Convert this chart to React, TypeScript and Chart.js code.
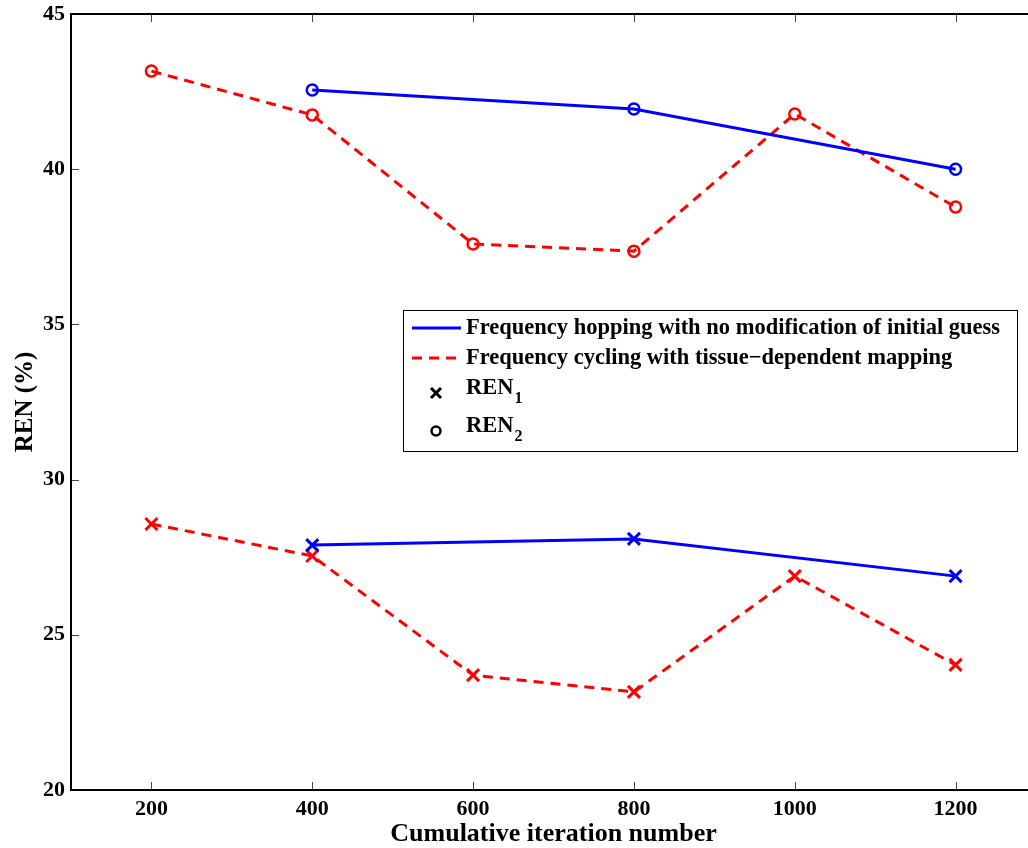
import React, { useEffect, useRef } from 'react';
import { Chart, registerables } from 'chart.js';

Chart.register(...registerables);

// ---- data ----
const cycIterations = [200, 400, 600, 800, 1000, 1200];
const hopIterations = [400, 800, 1200];
const hopREN1 = [27.89, 28.09, 26.89];
const hopREN2 = [42.55, 41.94, 40.0];
const cycREN1 = [28.57, 27.54, 23.7, 23.16, 26.89, 24.03];
const cycREN2 = [43.16, 41.75, 37.59, 37.36, 41.78, 38.78];
const xTickValues = [200, 400, 600, 800, 1000, 1200];
const yTickValues = [20, 25, 30, 35, 40, 45];
const xRange = [100, 1300];
const yRange = [20, 45];
const legendLabels = [
  'Frequency hopping with no modification of initial guess',
  'Frequency cycling with tissue\u2212dependent mapping',
  'REN',
  'REN',
];
const legendSubs = ['', '', '1', '2'];

const FONT = '"Liberation Serif", "Times New Roman", serif';
const BLUE = '#0000ff';
const RED = '#ff0000';

const toXY = (xs: number[], ys: number[]) => xs.map((x, i) => ({ x, y: ys[i] }));

const boxTicksPlugin = {
  id: 'boxTicks',
  afterDraw(chart: any) {
    const { ctx, chartArea, scales } = chart;
    const { left, right, top, bottom } = chartArea;
    ctx.save();
    ctx.strokeStyle = '#444';
    ctx.lineWidth = 1;
    const tl = 8;
    ctx.beginPath();
    xTickValues.forEach((v) => {
      const px = Math.round(scales.x.getPixelForValue(v)) + 0.5;
      ctx.moveTo(px, bottom);
      ctx.lineTo(px, bottom - tl);
      ctx.moveTo(px, top);
      ctx.lineTo(px, top + tl);
    });
    yTickValues.forEach((v) => {
      const py = Math.round(scales.y.getPixelForValue(v)) + 0.5;
      ctx.moveTo(left, py);
      ctx.lineTo(left + tl, py);
      ctx.moveTo(right, py);
      ctx.lineTo(right - tl, py);
    });
    ctx.stroke();
    ctx.strokeStyle = '#000';
    ctx.lineWidth = 2;
    ctx.strokeRect(left, top, right - left, bottom - top);
    ctx.restore();
  },
};

const legendPlugin = {
  id: 'customLegend',
  afterDraw(chart: any) {
    const { ctx } = chart;
    const bx = 403, by = 310, bw = 614, bh = 141;
    ctx.save();
    ctx.fillStyle = '#fff';
    ctx.fillRect(bx, by, bw, bh);
    ctx.strokeStyle = '#000';
    ctx.lineWidth = 1;
    ctx.strokeRect(bx + 0.5, by + 0.5, bw, bh);
    const rowsY = [328, 358, 388, 426];
    const textX = 466;
    const lineX0 = 412, lineX1 = 461, markX = 436;
    // line samples
    ctx.lineWidth = 3;
    ctx.strokeStyle = BLUE;
    ctx.setLineDash([]);
    ctx.beginPath();
    ctx.moveTo(lineX0, rowsY[0]);
    ctx.lineTo(lineX1, rowsY[0]);
    ctx.stroke();
    ctx.strokeStyle = RED;
    ctx.setLineDash([10, 7]);
    ctx.beginPath();
    ctx.moveTo(lineX0, rowsY[1]);
    ctx.lineTo(lineX1, rowsY[1]);
    ctx.stroke();
    ctx.setLineDash([]);
    // markers
    ctx.strokeStyle = '#000';
    ctx.lineWidth = 3;
    const c = 5;
    const m3 = 393, m4 = 431;
    ctx.beginPath();
    ctx.moveTo(markX - c, m3 - c);
    ctx.lineTo(markX + c, m3 + c);
    ctx.moveTo(markX + c, m3 - c);
    ctx.lineTo(markX - c, m3 + c);
    ctx.stroke();
    ctx.lineWidth = 2.5;
    ctx.beginPath();
    ctx.arc(markX, m4, 4.5, 0, Math.PI * 2);
    ctx.stroke();
    // text
    ctx.fillStyle = '#000';
    ctx.textBaseline = 'middle';
    ctx.textAlign = 'left';
    legendLabels.forEach((t, i) => {
      ctx.font = `bold 22.5px ${FONT}`;
      ctx.fillText(t, textX, rowsY[i]);
      if (legendSubs[i]) {
        const w = ctx.measureText(t).width;
        ctx.font = `bold 16px ${FONT}`;
        ctx.fillText(legendSubs[i], textX + w + 1, rowsY[i] + 11);
      }
    });
    ctx.restore();
  },
};

export default function App() {
  const canvasRef = useRef<HTMLCanvasElement | null>(null);

  useEffect(() => {
    const canvas = canvasRef.current;
    if (!canvas) return;
    const chart = new Chart(canvas, {
      type: 'line',
      data: {
        datasets: [
          {
            label: 'hop REN2',
            data: toXY(hopIterations, hopREN2),
            borderColor: BLUE,
            borderWidth: 3,
            pointStyle: 'circle',
            pointRadius: 5.5,
            pointBorderWidth: 2.5,
            pointBorderColor: BLUE,
            pointBackgroundColor: 'rgba(0,0,0,0)',
            tension: 0,
          },
          {
            label: 'cyc REN2',
            data: toXY(cycIterations, cycREN2),
            borderColor: RED,
            borderWidth: 3,
            borderDash: [10, 7],
            pointStyle: 'circle',
            pointRadius: 5.5,
            pointBorderWidth: 2.5,
            pointBorderColor: RED,
            pointBackgroundColor: 'rgba(0,0,0,0)',
            tension: 0,
          },
          {
            label: 'hop REN1',
            data: toXY(hopIterations, hopREN1),
            borderColor: BLUE,
            borderWidth: 3,
            pointStyle: 'crossRot',
            pointRadius: 8.5,
            pointBorderWidth: 3,
            pointBorderColor: BLUE,
            tension: 0,
          },
          {
            label: 'cyc REN1',
            data: toXY(cycIterations, cycREN1),
            borderColor: RED,
            borderWidth: 3,
            borderDash: [10, 7],
            pointStyle: 'crossRot',
            pointRadius: 8.5,
            pointBorderWidth: 3,
            pointBorderColor: RED,
            tension: 0,
          },
        ],
      },
      options: {
        responsive: false,
        animation: false,
        devicePixelRatio: 1,
        layout: { padding: { top: 14, right: 14, left: 0, bottom: 0 } },
        plugins: {
          legend: { display: false },
          tooltip: { enabled: false },
        },
        scales: {
          x: {
            type: 'linear',
            min: xRange[0],
            max: xRange[1],
            grid: { display: false, drawTicks: false },
            border: { display: false },
            afterBuildTicks: (scale: any) => {
              scale.ticks = xTickValues.map((v) => ({ value: v }));
            },
            afterFit: (scale: any) => {
              scale.height = 58;
              scale.paddingLeft = 0;
              scale.paddingRight = 0;
            },
            ticks: {
              color: '#000',
              padding: 6,
              maxRotation: 0,
              autoSkip: false,
              font: { family: FONT, weight: 'bold', size: 22 },
              callback: (v: any) => String(v),
            },
            title: {
              display: true,
              text: 'Cumulative iteration number',
              color: '#000',
              font: { family: FONT, weight: 'bold', size: 26, lineHeight: 1 },
              padding: { top: 0, bottom: 1 },
            },
          },
          y: {
            type: 'linear',
            min: yRange[0],
            max: yRange[1],
            grid: { display: false, drawTicks: false },
            border: { display: false },
            afterBuildTicks: (scale: any) => {
              scale.ticks = yTickValues.map((v) => ({ value: v }));
            },
            afterFit: (scale: any) => {
              scale.width = 71;
              scale.paddingTop = 0;
              scale.paddingBottom = 0;
            },
            ticks: {
              color: '#000',
              padding: 6,
              autoSkip: false,
              font: { family: FONT, weight: 'bold', size: 22 },
              callback: (v: any) => String(v),
            },
            title: {
              display: true,
              text: 'REN (%)',
              color: '#000',
              font: { family: FONT, weight: 'bold', size: 25, lineHeight: 1 },
              padding: { top: 13, bottom: 0 },
            },
          },
        },
      },
      plugins: [boxTicksPlugin, legendPlugin],
    } as any);
    return () => chart.destroy();
  }, []);

  return (
    <div
      style={{
        position: 'absolute',
        left: 0,
        top: 0,
        width: 1028,
        height: 848,
        overflow: 'hidden',
        background: '#fff',
      }}
    >
      <canvas ref={canvasRef} width={1050} height={848} style={{ width: 1050, height: 848, display: 'block' }} />
    </div>
  );
}
